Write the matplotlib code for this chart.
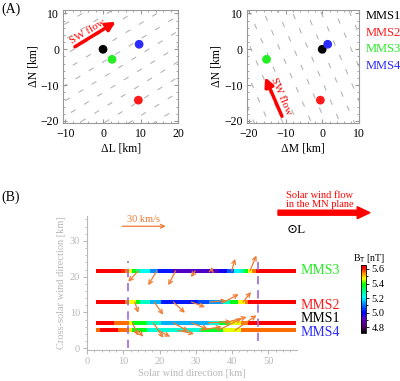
import numpy as np
import matplotlib
matplotlib.use("Agg")
import matplotlib.pyplot as plt
from matplotlib.colors import LinearSegmentedColormap, Normalize
from matplotlib.patches import FancyArrow

plt.rcParams['font.family'] = ['Liberation Serif', 'DejaVu Serif']

# ---- panel A : spacecraft positions ----
sc_names = ['MMS1', 'MMS2', 'MMS3', 'MMS4']
sc_colors = ['black', '#ff1a1a', '#22ee22', '#2b2bff']
dL = [0.0, 9.4, 2.4, 9.6]
dM = [0.0, -0.5, -15.2, 1.5]
dN = [0.0, -14.2, -2.8, 1.4]

# ---- panel B : B_T along the track (1 km bins, 3..57 km) ----
bin_x = np.arange(3, 58)
bt_mms3 = [5.62]*7 + [5.60, 5.55, 5.47, 5.38, 5.30] + [5.22]*3 + [5.12]*2 + [5.02]*4 \
    + [4.92]*13 + [4.98]*2 + [5.08]*2 + [5.20]*2 + [5.30, 5.38, 5.47, 5.55] + [5.62]*11
bt_mms2 = [5.62]*8 + [5.55] + [5.47]*2 + [5.38] + [5.25]*3 + [5.15]*3 + [5.02]*10 \
    + [5.07]*3 + [5.13]*4 + [5.25]*2 + [5.38]*2 + [5.47]*2 + [5.55] + [5.62]*13
bt_mms1 = [5.62]*5 + [5.56]*4 + [5.47] + [5.38]*4 + [5.25]*4 + [5.15]*13 \
    + [5.23]*3 + [5.36]*3 + [5.46]*3 + [5.55]*2 + [5.62]*13
bt_mms4 = [5.56] + [5.62]*5 + [5.56]*3 + [5.48] + [5.38]*4 + [5.24]*15 \
    + [5.37]*6 + [5.46]*5 + [5.56]*15
strip_y = {'MMS3': 21.6, 'MMS2': 12.9, 'MMS1': 7.1, 'MMS4': 5.0}
strip_bt = {'MMS3': bt_mms3, 'MMS2': bt_mms2, 'MMS1': bt_mms1, 'MMS4': bt_mms4}

# velocity arrows (tail x in km, vx/vy in km/s)
vel_x = {'MMS3': [14.1, 19.2, 24.4, 29.8, 34.3, 39.9, 44.9],
         'MMS2': [13.2, 18.5, 23.8, 28.8, 33.9, 37.8, 43.0],
         'MMS1': [12.5, 18.3, 23.8, 28.8, 33.4, 38.0],
         'MMS4': [14.0, 19.6, 25.0, 31.1, 36.2, 40.8]}
vel_vx = {'MMS3': [-6.8, -5.8, -5.0, -2.8, 0.5, 2.3, 4.5],
          'MMS2': [2.3, 6.3, 8.0, 9.3, 11.3, 10.0, 5.5],
          'MMS1': [4.0, 6.8, 10.3, 11.3, 16.0, 15.0],
          'MMS4': [3.8, 8.3, 11.3, 15.0, 16.0, 14.8]}
vel_vy = {'MMS3': [-7.5, -10.0, -10.0, -4.3, 2.8, 8.5, 10.8],
          'MMS2': [-7.5, -8.8, -7.5, -3.5, 1.0, 5.5, 7.0],
          'MMS1': [-9.0, -10.5, -6.0, -4.5, 0.8, 4.0],
          'MMS4': [-4.5, -4.5, -2.5, 2.5, 8.3, 10.5]}
km_per_kms = 0.4   # 30 km/s -> 12 km on the plot
boundaries = [11.2, 47.2]

# colour table similar to IDL rainbow
cmap = LinearSegmentedColormap.from_list('rb', [
    (0.00, (0.0, 0.0, 0.0)), (0.10, (0.33, 0.0, 0.45)), (0.20, (0.35, 0.0, 0.75)),
    (0.30, (0.0, 0.0, 1.0)), (0.42, (0.0, 0.5, 1.0)), (0.52, (0.0, 1.0, 1.0)),
    (0.64, (0.0, 1.0, 0.45)), (0.72, (0.0, 1.0, 0.0)), (0.80, (1.0, 1.0, 0.0)),
    (0.88, (1.0, 0.55, 0.0)), (0.96, (1.0, 0.0, 0.0)), (1.00, (0.9, 0.0, 0.0))])
norm = Normalize(vmin=4.72, vmax=5.655)

fig = plt.figure(figsize=(4.0, 3.81), dpi=100)
gray = '#999999'
orange = '#f07a32'


def style_a(ax):
    for s in ax.spines.values():
        s.set_color(gray)
        s.set_linewidth(0.8)
    ax.minorticks_on()
    ax.tick_params(which='both', direction='in', top=True, right=True, color=gray, labelsize=8.5, pad=3)
    ax.tick_params(which='major', length=3)
    ax.tick_params(which='minor', length=1.5)


def dashed_planes(ax, d, xlim, ylim, spacing=3.6):
    d = np.array(d) / np.hypot(*d)
    n = np.array([-d[1], d[0]])
    c = np.array([(xlim[0]+xlim[1])/2, (ylim[0]+ylim[1])/2])
    t = np.linspace(-40, 40, 2)
    for k in range(-15, 16):
        p = c + k*spacing*n
        ax.plot(p[0]+t*d[0], p[1]+t*d[1], color='#b5b5b5', lw=0.8,
                ls=(k*3, (5, 9)), zorder=1)
    ax.set_xlim(xlim)
    ax.set_ylim(ylim)


# left panel (L, N)
axL = fig.add_axes([0.158, 0.676, 0.2875, 0.299])
dashed_planes(axL, (11.9, 7.7), (-10.6, 20), (-20.7, 11.1))
axL.scatter(dL, dN, c=sc_colors, s=28, zorder=3)
axL.annotate('', xy=(4.0, 8.1), xytext=(-8.1, 0.3),
             arrowprops=dict(arrowstyle='-|>', color='red', lw=2.5, mutation_scale=13))
axL.text(-4.2, 4.9, 'SW flow', color='red', fontsize=8, rotation=31, ha='center', va='center')
axL.set_xticks([-10, 0, 10, 20])
axL.set_yticks([-20, -10, 0, 10])
axL.set_xlabel('ΔL [km]', fontsize=8.5, labelpad=2)
axL.set_ylabel('ΔN [km]', fontsize=8.5, labelpad=1)
style_a(axL)

# right panel (M, N)
axR = fig.add_axes([0.617, 0.676, 0.28, 0.299])
dashed_planes(axR, (-5.2, 12.3), (-20.6, 9.3), (-20.7, 11.1))
axR.scatter(dM, dN, c=sc_colors, s=28, zorder=3)
axR.annotate('', xy=(-15.9, -7.1), xytext=(-10.7, -19.4),
             arrowprops=dict(arrowstyle='-|>', color='red', lw=2.5, mutation_scale=13))
axR.text(-11.2, -13.0, 'SW flow', color='red', fontsize=8, rotation=-67, ha='center', va='center')
axR.set_xticks([-20, -10, 0, 10])
axR.set_yticks([-20, -10, 0, 10])
axR.set_xlabel('ΔM [km]', fontsize=8.5, labelpad=2)
axR.set_ylabel('ΔN [km]', fontsize=8.5, labelpad=1)
style_a(axR)

for i, (name, col) in enumerate(zip(sc_names, sc_colors)):
    fig.text(0.915, 0.958 - i*0.0435, name, color=col, fontsize=9, va='center', ha='left')

fig.text(0.003, 0.975, '(A)', fontsize=10, va='center')
fig.text(0.003, 0.483, '(B)', fontsize=10, va='center')

# ---- panel B ----
axB = fig.add_axes([0.2175, 0.0814, 0.526, 0.352])
edges_x = np.append(bin_x - 0.5, bin_x[-1] + 0.5)
for name in ['MMS3', 'MMS2', 'MMS1', 'MMS4']:
    y0 = strip_y[name]
    axB.pcolormesh(edges_x, [y0-0.6, y0+0.6], np.array(strip_bt[name])[None, :],
                   cmap=cmap, norm=norm, zorder=2)
axB.plot([boundaries[0]]*2, [0.0, 24.5], color='#9b6be0', lw=1.2, ls=(0, (5, 3.5)), zorder=3)
axB.plot([boundaries[1]]*2, [2.0, 25.9], color='#9b6be0', lw=1.2, ls=(0, (5, 3.5)), zorder=3)

arw = dict(arrowstyle='->', color=orange, lw=0.9, mutation_scale=7, shrinkA=0, shrinkB=0)
for name in ['MMS3', 'MMS2', 'MMS1', 'MMS4']:
    y0 = strip_y[name]
    for x0, vx, vy in zip(vel_x[name], vel_vx[name], vel_vy[name]):
        axB.annotate('', xy=(x0 + vx*km_per_kms, y0 + vy*km_per_kms), xytext=(x0, y0),
                     arrowprops=arw, zorder=4)
# reference arrow
axB.annotate('', xy=(9.7 + 30*km_per_kms, 34.1), xytext=(9.7, 34.1), arrowprops=arw)
axB.text(15.6, 35.9, '30 km/s', color=orange, fontsize=7.5, ha='center', va='center')

label_y = {'MMS3': 21.6, 'MMS2': 12.0, 'MMS1': 8.3, 'MMS4': 4.3}
label_c = {'MMS1': 'black', 'MMS2': '#ff1a1a', 'MMS3': '#22ee22', 'MMS4': '#2b2bff'}
for name in ['MMS3', 'MMS2', 'MMS1', 'MMS4']:
    axB.text(59.0, label_y[name], name, color=label_c[name], fontsize=10,
             va='center', ha='left', clip_on=False)

axB.set_xlim(0, 58)
axB.set_ylim(-0.5, 37)
axB.set_xticks([0, 10, 20, 30, 40, 50])
axB.set_yticks([0, 10, 20, 30])
axB.set_xticks(np.arange(0, 58, 2), minor=True)
axB.set_yticks(np.arange(0, 37, 2), minor=True)
bgray = '#b8b8b8'
for s in ['top', 'right']:
    axB.spines[s].set_visible(False)
for s in ['left', 'bottom']:
    axB.spines[s].set_color(bgray)
    axB.spines[s].set_linewidth(0.8)
axB.tick_params(which='both', direction='out', color=bgray, labelcolor=bgray, labelsize=7.5, pad=2)
axB.tick_params(which='major', length=3)
axB.tick_params(which='minor', length=1.5)
axB.set_xlabel('Solar wind direction [km]', color=bgray, fontsize=7.5, labelpad=2)
axB.set_ylabel('Cross-solar wind direction [km]', color=bgray, fontsize=7.5, labelpad=3)

# solar wind flow arrow & L direction
fig.text(0.80, 0.475, 'Solar wind flow\nin the MN plane', color='red', fontsize=7.5,
         ha='center', va='center', linespacing=1.0)
fig.patches.append(FancyArrow(0.695, 1 - 212.7/381, 0.23, 0, width=5/381, head_width=12/381,
                              head_length=0.032, length_includes_head=True,
                              color='red', transform=fig.transFigure, figure=fig))
fig.text(0.716, 0.396, '⊙L', fontsize=9.5, ha='left', va='center')

# colorbar
cax = fig.add_axes([0.9025, 0.126, 0.0125, 0.1785])
cb = fig.colorbar(plt.cm.ScalarMappable(norm=norm, cmap=cmap), cax=cax, ticks=[4.8, 5.0, 5.2, 5.4, 5.6])
cb.outline.set_linewidth(0.6)
cax.tick_params(labelsize=7.5, length=2.5, width=0.6, pad=1.5)
cax.yaxis.set_minor_locator(plt.MultipleLocator(0.1))
cax.tick_params(which='minor', length=1.5)
cax.set_title('B$_\\mathrm{T}$ [nT]', fontsize=7, pad=2, x=1.6)

fig.savefig('out.png', dpi=100)
